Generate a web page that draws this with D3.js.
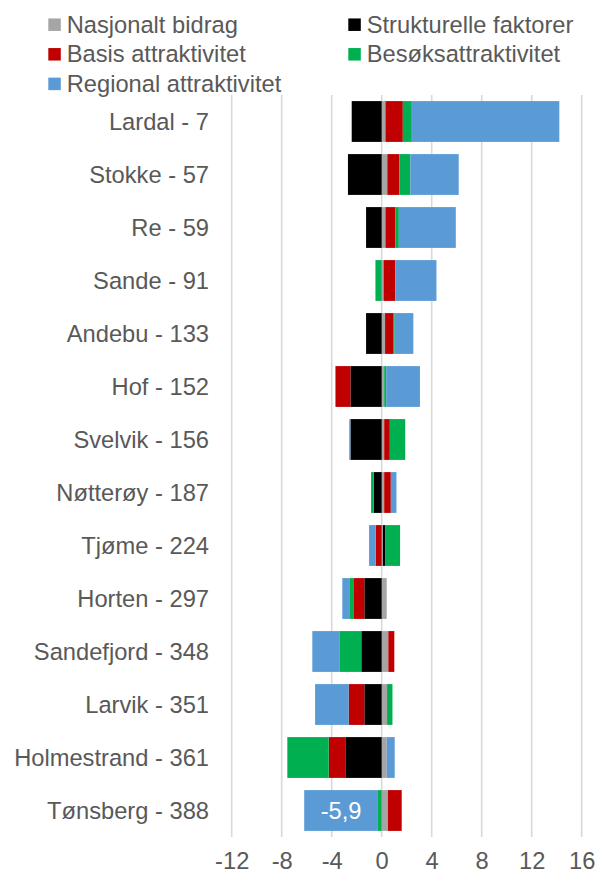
<!DOCTYPE html>
<html>
<head>
<meta charset="utf-8">
<script src="https://cdn.jsdelivr.net/npm/d3@7/dist/d3.min.js"></script>
<style>
  html, body { margin: 0; padding: 0; background: #fff; }
  svg { display: block; }
  text { font-family: "Liberation Sans", Arial, sans-serif; fill: #595959; }
</style>
</head>
<body>
<svg id="chart" width="597" height="875"></svg>
<script>
// Kommuner (rangering) and the five components of the decomposition
const categories = ["Lardal - 7", "Stokke - 57", "Re - 59", "Sande - 91", "Andebu - 133",
  "Hof - 152", "Svelvik - 156", "Nøtterøy - 187", "Tjøme - 224", "Horten - 297",
  "Sandefjord - 348", "Larvik - 351", "Holmestrand - 361", "Tønsberg - 388"];

const seriesNames = ["Nasjonalt bidrag", "Strukturelle faktorer", "Basis attraktivitet",
  "Besøksattraktivitet", "Regional attraktivitet"];
const seriesColors = ["#A5A5A5", "#000000", "#C00000", "#00B050", "#5B9BD5"];

const nasjonalt    = [0.3, 0.45, 0.3, 0.15, 0.27, 0.2, 0.2, 0.2, 0.1, 0.4, 0.53, 0.43, 0.4, 0.5];
const strukturelle = [-2.4, -2.7, -1.25, 0, -1.25, -2.5, -2.5, -0.64, 0.17, -1.39, -1.63, -1.39, -2.91, 0];
const basis        = [1.39, 0.96, 0.8, 0.93, 0.64, -1.2, 0.45, 0.53, -0.48, -0.88, 0.48, -1.25, -1.33, 1.1];
const besok        = [0.72, 0.88, 0.27, -0.5, 0.13, 0.16, 1.23, -0.21, 1.2, -0.27, -1.76, 0.43, -3.31, -0.3];
const regional     = [11.8, 3.87, 4.56, 3.3, 1.49, 2.7, -0.1, 0.45, -0.53, -0.61, -2.16, -2.69, 0.64, -5.9];

const xTicks = [-12, -8, -4, 0, 4, 8, 12, 16];

// Only this bar carries a value label
const labelled = { category: "Tønsberg - 388", series: "Regional attraktivitet" };

const fontSize = "23.7px";

const columns = [nasjonalt, strukturelle, basis, besok, regional];
const rows = categories.map((c, i) => {
  const r = { category: c };
  seriesNames.forEach((s, k) => { r[s] = columns[k][i]; });
  return r;
});

const svg = d3.select("#chart");
const plot = { left: 231.7, right: 581.7, top: 95, bottom: 837 };

const x = d3.scaleLinear().domain([-12, 16]).range([plot.left, plot.right]);
const y = d3.scaleBand().domain(categories).range([plot.top, plot.bottom]).paddingInner(0.23).paddingOuter(0.115);
const color = d3.scaleOrdinal().domain(seriesNames).range(seriesColors);

// Vertical gridlines
svg.append("g")
  .selectAll("line")
  .data(xTicks)
  .join("line")
  .attr("x1", d => x(d)).attr("x2", d => x(d))
  .attr("y1", plot.top).attr("y2", plot.bottom)
  .attr("stroke", "#D9D9D9")
  .attr("stroke-width", 1.6);

// Diverging stack: positives to the right of zero, negatives to the left, in series order
const stacked = d3.stack().keys(seriesNames).offset(d3.stackOffsetDiverging)(rows);

svg.append("g")
  .selectAll("g")
  .data(stacked)
  .join("g")
  .attr("fill", d => color(d.key))
  .selectAll("rect")
  .data(d => d)
  .join("rect")
  .attr("x", d => x(Math.min(d[0], d[1])))
  .attr("width", d => Math.abs(x(d[1]) - x(d[0])))
  .attr("y", d => y(d.data.category))
  .attr("height", y.bandwidth());

// Value label inside the labelled segment
const fmt = v => d3.format(".1f")(v).replace(".", ",").replace("−", "-");
const seg = stacked.find(s => s.key === labelled.series)
  .find(d => d.data.category === labelled.category);
svg.append("text")
  .attr("x", x((seg[0] + seg[1]) / 2))
  .attr("y", y(labelled.category) + y.bandwidth() / 2)
  .attr("dy", "0.35em")
  .attr("text-anchor", "middle")
  .style("fill", "#FFFFFF")
  .style("font-size", fontSize)
  .text(fmt(seg.data[labelled.series]));

// Category labels
svg.append("g")
  .selectAll("text")
  .data(categories)
  .join("text")
  .attr("x", 209)
  .attr("y", d => y(d) + y.bandwidth() / 2)
  .attr("dy", "0.35em")
  .attr("text-anchor", "end")
  .style("font-size", fontSize)
  .text(d => d);

// Value axis labels
const xAxis = d3.axisBottom(x).tickValues(xTicks).tickSize(0).tickPadding(0)
  .tickFormat(d => String(d));
const gx = svg.append("g")
  .attr("transform", `translate(0, ${plot.bottom})`)
  .call(xAxis);
gx.select(".domain").remove();
gx.selectAll("text")
  .attr("y", 32)
  .attr("dy", 0)
  .style("font-size", fontSize)
  .style("font-family", "'Liberation Sans', Arial, sans-serif")
  .style("fill", "#595959");

// Legend in two columns
const legendPos = [[48.3, 24.7], [348.3, 24.7], [48.3, 54.3], [348.3, 54.3], [48.3, 83.9]];
const legend = svg.append("g")
  .selectAll("g")
  .data(seriesNames)
  .join("g")
  .attr("transform", (d, i) => `translate(${legendPos[i][0]}, ${legendPos[i][1]})`);
legend.append("rect")
  .attr("x", 0).attr("y", -6.25)
  .attr("width", 12.5).attr("height", 12.5)
  .attr("fill", d => color(d));
legend.append("text")
  .attr("x", 18.4)
  .attr("y", 0)
  .attr("dy", "0.33em")
  .style("font-size", fontSize)
  .text(d => d);
</script>
</body>
</html>
